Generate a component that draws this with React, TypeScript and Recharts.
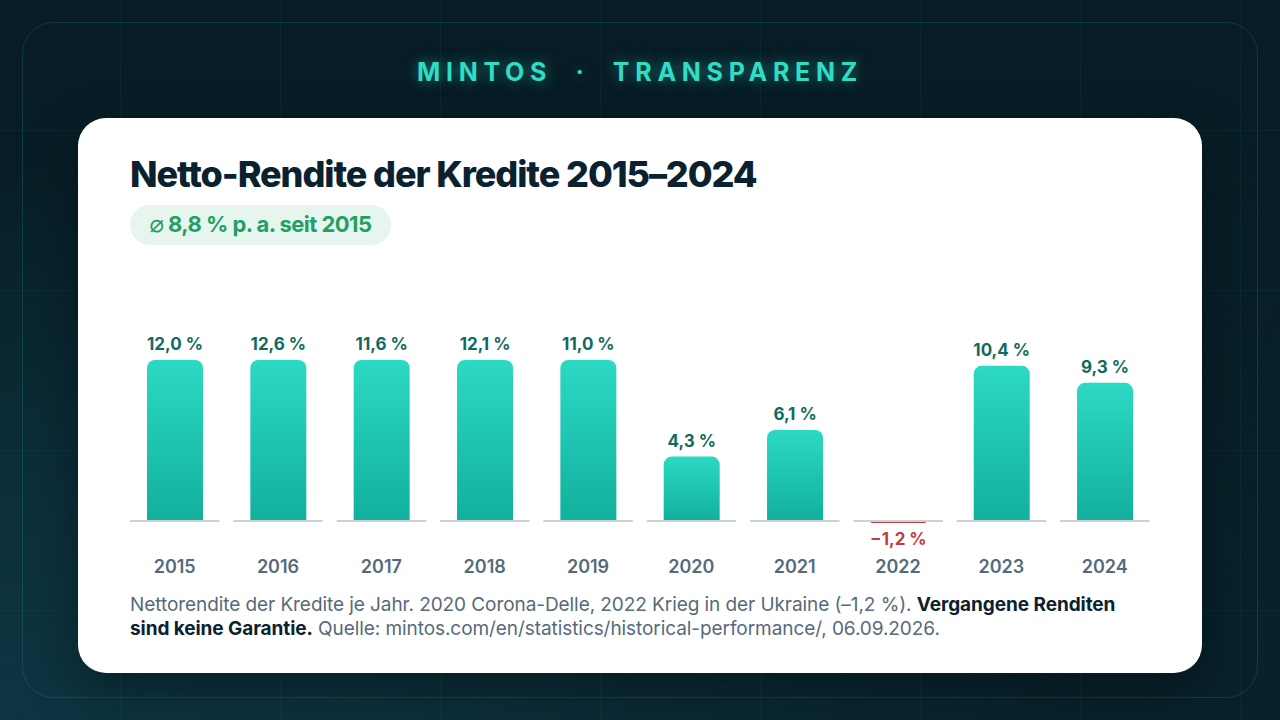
import { Bar, BarChart, Cell, LabelList, XAxis, YAxis } from "recharts";

const years = ["2015", "2016", "2017", "2018", "2019", "2020", "2021", "2022", "2023", "2024"];
// printed returns, as the labels read
const returnLabels = ["12,0 %", "12,6 %", "11,6 %", "12,1 %", "11,0 %", "4,3 %", "6,1 %", "−1,2 %", "10,4 %", "9,3 %"];
// bar lengths as drawn in the picture: the tall bars stop at one height and 2022 is a sliver
const drawnValues = [10.85, 10.85, 10.85, 10.85, 10.85, 4.3, 6.1, -0.2, 10.45, 9.3];
const ruleValues = [-0.136, -0.136, -0.136, -0.136, -0.136, -0.136, -0.136, -0.136, -0.136, -0.136];

const FONT = "Inter, sans-serif";
const INK = "#0a2230";
const MUTED = "#566a7c";
const TEAL_TEXT = "#0f6b60";
const RED = "#c43d3d";

const chartData = years.map((year, i) => ({
  year,
  label: returnLabels[i],
  value: drawnValues[i],
  rule: ruleValues[i],
}));

function ValueLabel({ x, y, width, index, value }: any) {
  const negative = drawnValues[index] < 0;
  return (
    <text
      dominantBaseline="central"
      fill={negative ? RED : TEAL_TEXT}
      fontFamily={FONT}
      fontSize={17}
      fontWeight={700}
      textAnchor="middle"
      x={x + width / 2}
      y={negative ? y + 16 : y - 16}
    >
      {value}
    </text>
  );
}

const gridLines = {
  backgroundImage:
    "linear-gradient(rgba(45,217,195,0.05) 1px, transparent 1px), linear-gradient(90deg, rgba(45,217,195,0.05) 1px, transparent 1px)",
  backgroundPosition: "120px 130px",
  backgroundSize: "160px 160px",
};

export default function App() {
  return (
    <div
      style={{
        position: "fixed",
        left: 0,
        top: 0,
        width: 1280,
        height: 720,
        overflow: "hidden",
        fontFamily: FONT,
        background:
          "radial-gradient(1100px 560px at 0% 100%, #0d3541 0%, rgba(13,53,65,0.75) 35%, rgba(13,53,65,0) 100%), linear-gradient(#071c24, #08222b)",
      }}
    >
      <div style={{ position: "absolute", inset: 0, ...gridLines }} />
      <div
        style={{
          position: "absolute",
          left: 22,
          top: 22,
          width: 1234,
          height: 674,
          border: "1px solid rgba(45,217,195,0.16)",
          borderRadius: 32,
        }}
      />
      <div
        style={{
          position: "absolute",
          left: 0,
          top: 56,
          width: 1280,
          textAlign: "center",
          color: "#2fdcc5",
          fontSize: 25,
          lineHeight: "32px",
          fontWeight: 700,
          letterSpacing: "0.229em",
          whiteSpace: "pre",
          textShadow: "0 0 14px rgba(45,217,195,0.55)",
        }}
      >
        MINTOS  ·  TRANSPARENZ
      </div>

      <div
        style={{
          position: "absolute",
          left: 78,
          top: 118,
          width: 1124,
          height: 555,
          background: "#fff",
          borderRadius: 28,
          boxShadow: "0 18px 50px rgba(0,0,0,0.35)",
        }}
      />
      <div
        style={{
          position: "absolute",
          left: 130,
          top: 151,
          color: INK,
          fontSize: 36,
          lineHeight: "46px",
          fontWeight: 800,
          letterSpacing: "-0.03em",
          whiteSpace: "nowrap",
        }}
      >
        Netto-Rendite der Kredite 2015–2024
      </div>
      <div
        style={{
          position: "absolute",
          left: 130,
          top: 205,
          width: 261,
          height: 40,
          borderRadius: 20,
          background: "#e6f5ee",
          color: "#22a063",
          fontSize: 22,
          lineHeight: "39px",
          fontWeight: 700,
          letterSpacing: "-0.025em",
          textAlign: "center",
          whiteSpace: "nowrap",
        }}
      >
        <span style={{ fontFamily: "'DejaVu Sans', sans-serif", fontWeight: 400, fontSize: 24, lineHeight: "20px" }}>⌀</span> 8,8 % p. a. seit 2015
      </div>

      <div style={{ position: "absolute", left: 123.3, top: 319 }}>
        <BarChart
          barGap={0}
          data={chartData}
          height={260.5}
          margin={{ top: 24, right: 0, bottom: 0, left: 0 }}
          width={1033.4}
        >
          <defs>
            <linearGradient id="barFill" x1="0" x2="0" y1="0" y2="1">
              <stop offset="0%" stopColor="#2cd9c4" />
              <stop offset="100%" stopColor="#12b09d" />
            </linearGradient>
          </defs>
          <XAxis
            axisLine={false}
            dataKey="year"
            height={30}
            interval={0}
            tick={{ fill: MUTED, fontFamily: FONT, fontSize: 18, fontWeight: 600 }}
            tickLine={false}
            tickMargin={5}
            xAxisId="years"
          />
          <XAxis dataKey="year" height={0} hide xAxisId="rule" />
          <YAxis domain={[-2, 12]} hide />
          <Bar
            barSize={56}
            dataKey="value"
            isAnimationActive={false}
            radius={[8, 8, 0, 0]}
            xAxisId="years"
          >
            {drawnValues.map((v, i) => (
              <Cell fill={v < 0 ? RED : "url(#barFill)"} key={years[i]} />
            ))}
            <LabelList content={<ValueLabel />} dataKey="label" />
          </Bar>
          <Bar
            barSize={89.5}
            dataKey="rule"
            fill="#c9d2d8"
            isAnimationActive={false}
            xAxisId="rule"
          />
        </BarChart>
      </div>

      <div
        style={{
          position: "absolute",
          left: 130,
          top: 593,
          color: MUTED,
          fontSize: 19,
          lineHeight: "24px",
          letterSpacing: "-0.07px",
          whiteSpace: "nowrap",
        }}
      >
        Nettorendite der Kredite je Jahr. 2020 Corona-Delle, 2022 Krieg in der Ukraine (–1,2 %).{" "}
        <b style={{ color: INK, fontWeight: 700 }}>Vergangene Renditen</b>
        <br />
        <b style={{ color: INK, fontWeight: 700 }}>sind keine Garantie.</b> Quelle:
        mintos.com/en/statistics/historical-performance/, 06.09.2026.
      </div>
    </div>
  );
}
